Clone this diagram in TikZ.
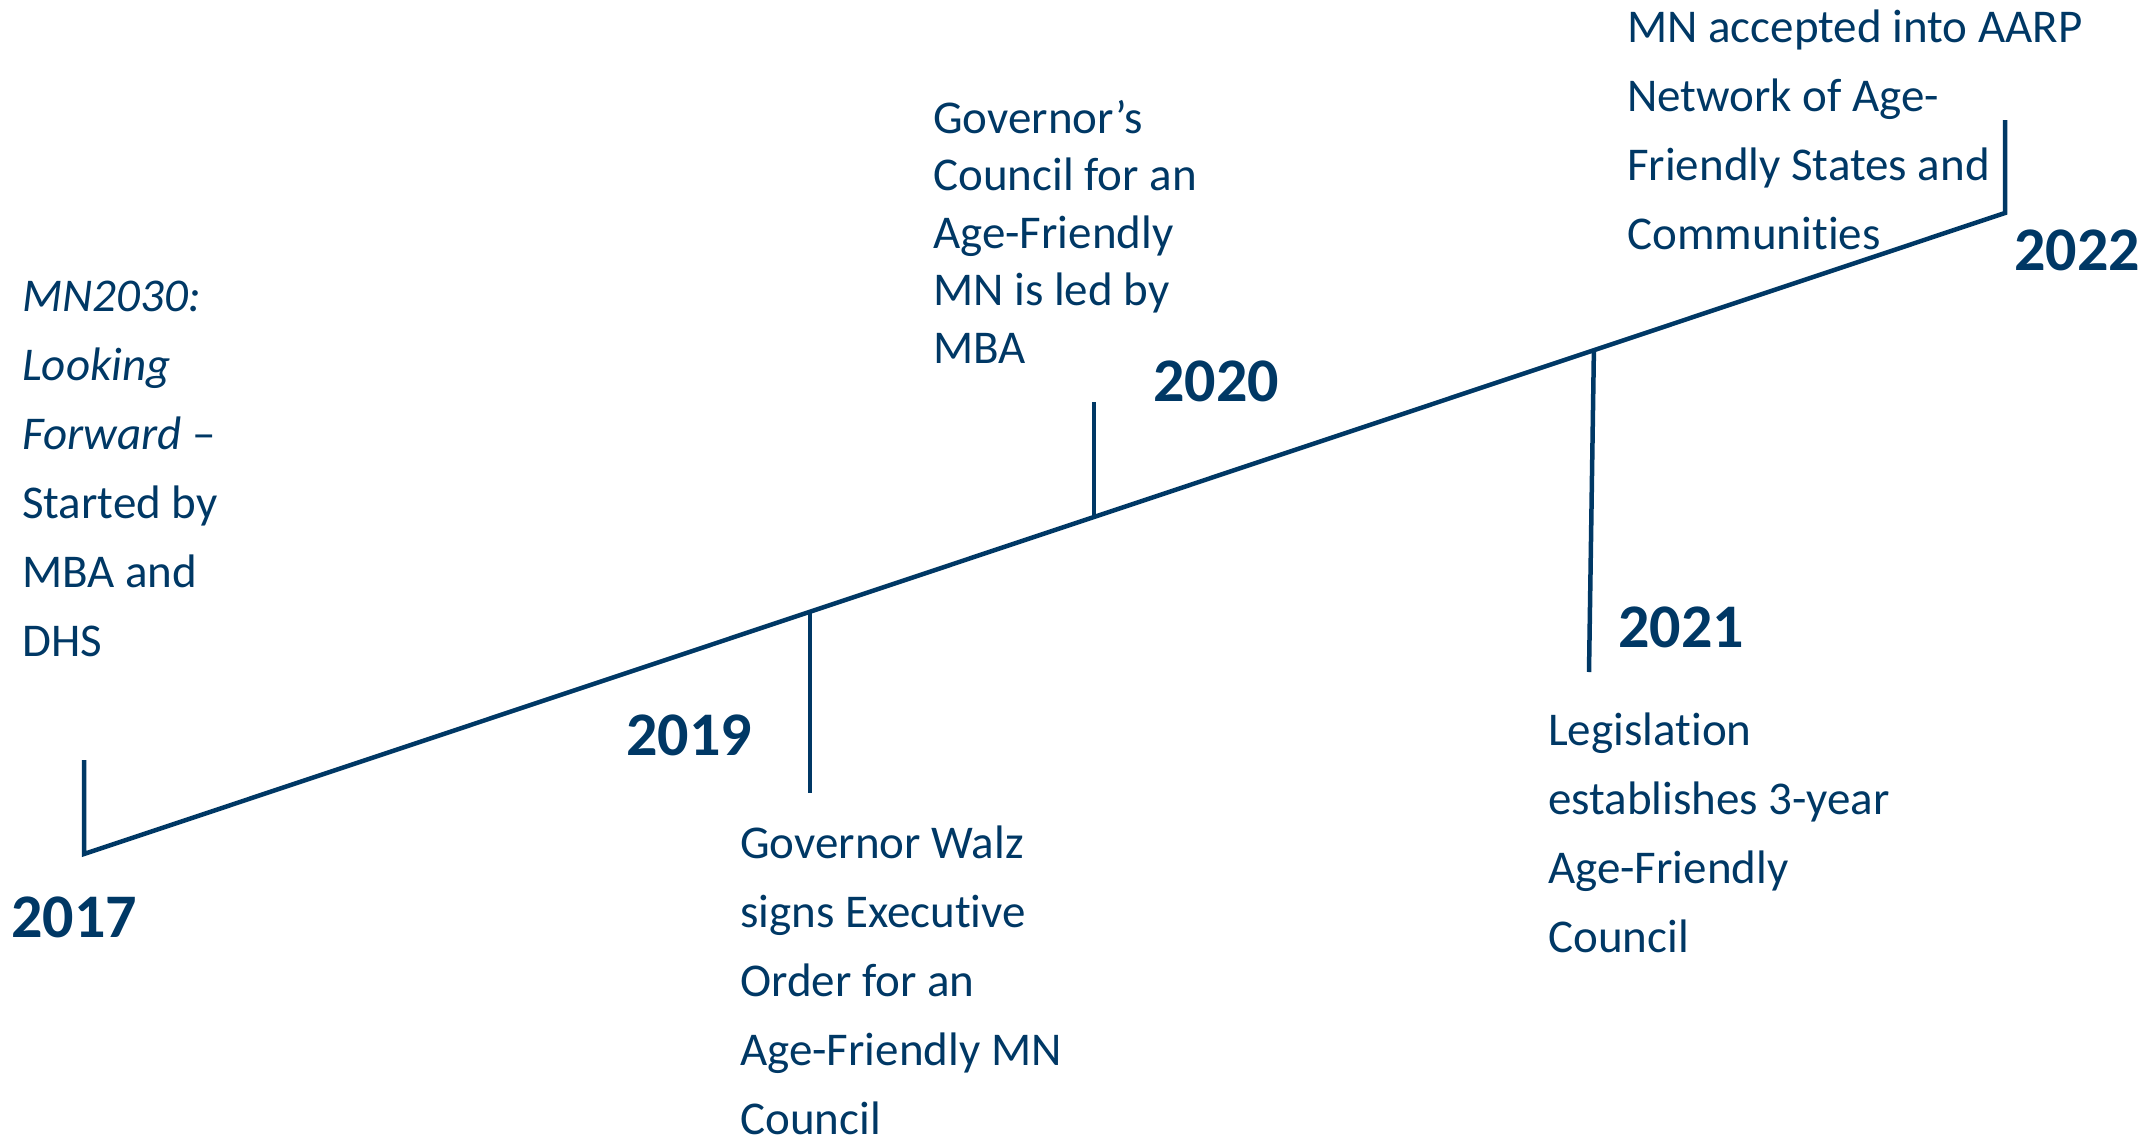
\documentclass[tikz,border=0pt]{standalone}
\usepackage{fontspec}
\setmainfont[Ligatures=NoCommon]{Carlito}
\usetikzlibrary{calc}
\definecolor{navy}{RGB}{0,56,101}
\begin{document}
\begin{tikzpicture}[x=1pt,y=-1pt,
  tl/.style={draw=navy,line width=4.5pt,line join=miter},
  year/.style={anchor=base west,inner sep=0pt,text=navy,font=\fontsize{62}{62}\selectfont\bfseries},
  desc/.style={anchor=base west,inner sep=0pt,text=navy,font=\fontsize{47}{69}\selectfont},
  desctight/.style={anchor=base west,inner sep=0pt,text=navy,font=\fontsize{47}{57.5}\selectfont},
]
\useasboundingbox (0,0) rectangle (2156,1141);

% timeline end points and ticks
\coordinate (p17) at (84,854);
\coordinate (p22) at (2005,213);
\coordinate (e17) at (84,760);
\coordinate (e22) at (2005,120);
\coordinate (p19) at ($(p17)!0.3779!(p22)$);
\coordinate (p20) at ($(p17)!0.5258!(p22)$);
\coordinate (p21) at ($(p17)!0.7860!(p22)$);
\coordinate (e19) at (810,793);
\coordinate (e20) at (1094,402);
\coordinate (e21) at (1589,672);

\draw[tl] (e17) -- (p17) -- (p22) -- (e22);
\draw[tl] (p19) -- (p19 |- e19);
\draw[tl] (p20) -- (p20 |- e20);
\draw[tl] (p21) -- (e21);

% years
\node[year] (y17) at (11,937) {2017};
\node[year] (y19) at (626,755) {2019};
\node[year] (y20) at (1153,401) {2020};
\node[year] (y21) at (1618,647) {2021};
\node[year] (y22) at (2014,270) {2022};

% descriptions
\node[desc] (d17) at (22,311) {\begin{tabular}[t]{@{}l@{}}\textit{MN2030:}\\\textit{Looking}\\\textit{Forward} –\\Started by\\MBA and\\DHS\end{tabular}};
\node[desc] (d19) at (740,858) {\begin{tabular}[t]{@{}l@{}}Governor Walz\\signs Executive\\Order for an\\Age-Friendly MN\\Council\end{tabular}};
\node[desctight] (d20) at (933,133) {\begin{tabular}[t]{@{}l@{}}Governor’s\\Council for an\\Age-Friendly\\MN is led by\\MBA\end{tabular}};
\node[desc] (d21) at (1548,745) {\begin{tabular}[t]{@{}l@{}}Legislation\\establishes 3-year\\Age-Friendly\\Council\end{tabular}};
\node[desc] (d22) at (1627,42) {\begin{tabular}[t]{@{}l@{}}MN accepted into AARP\\Network of Age-\\Friendly States and\\Communities\end{tabular}};
\end{tikzpicture}
\end{document}
